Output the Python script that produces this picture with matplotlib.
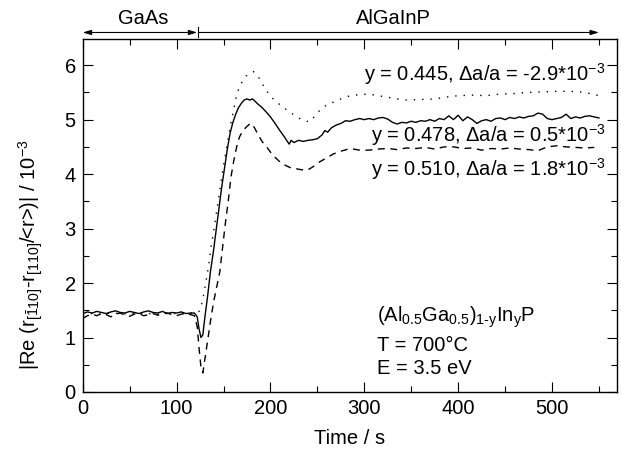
import numpy as np
import matplotlib.pyplot as plt
from matplotlib.ticker import MultipleLocator

plt.rcParams['font.family'] = ['Liberation Sans', 'DejaVu Sans']
plt.rcParams['mathtext.fontset'] = 'custom'
plt.rcParams['mathtext.rm'] = 'Liberation Sans'
plt.rcParams['mathtext.it'] = 'Liberation Sans:italic'
plt.rcParams['mathtext.bf'] = 'Liberation Sans:bold'

# y = 0.478 (solid)
t_solid = [0, 5, 10, 15, 20, 25, 30, 35, 40, 45, 50, 55, 60, 65, 70, 75, 80, 85, 90, 95,
           100, 105, 110, 115, 119, 122, 124, 126, 128, 130, 133, 136, 139, 142, 145, 148,
           151, 154, 157, 160, 163, 166, 169, 172, 175, 178, 181, 184, 187, 190, 195, 200,
           205, 210, 215, 218, 220, 222, 225, 230, 235, 240, 245, 250, 255, 258, 261, 265,
           270, 275, 280, 285, 290, 295, 300, 305, 310, 315, 320, 325, 330, 335, 340, 345,
           350, 355, 360, 365, 370, 375, 380, 385, 390, 395, 400, 405, 410, 415, 420, 425,
           430, 435, 440, 445, 450, 455, 460, 465, 470, 475, 480, 485, 490, 495, 500, 505,
           510, 515, 520, 525, 530, 535, 540, 545, 550]
v_solid = [1.44, 1.47, 1.45, 1.48, 1.46, 1.44, 1.47, 1.49, 1.46, 1.45, 1.48, 1.46, 1.44, 1.47,
           1.49, 1.46, 1.45, 1.48, 1.44, 1.46, 1.45, 1.47, 1.44, 1.45, 1.45, 1.38, 1.15, 1.0,
           1.05, 1.35, 1.75, 2.2, 2.55, 2.95, 3.35, 3.75, 4.1, 4.45, 4.75, 4.95, 5.1, 5.22,
           5.3, 5.36, 5.38, 5.36, 5.38, 5.33, 5.28, 5.24, 5.15, 5.05, 4.93, 4.8, 4.68, 4.6,
           4.55, 4.62, 4.58, 4.62, 4.6, 4.62, 4.63, 4.65, 4.72, 4.8, 4.77, 4.85, 4.9, 4.93,
           4.98, 4.97, 5.0, 5.02, 5.0, 5.02, 5.0, 5.03, 5.04, 5.01, 4.95, 4.92, 4.95, 4.94,
           4.97, 4.95, 4.98, 4.97, 5.0, 4.97, 5.02, 5.0, 5.07, 5.0, 5.08, 4.98, 5.05, 5.0,
           4.93, 4.98, 5.0, 4.97, 5.02, 5.03, 5.0, 5.04, 5.02, 5.05, 5.03, 5.06, 5.07, 5.12,
           5.1, 5.02, 5.0, 5.02, 5.04, 5.1, 5.02, 5.05, 5.03, 5.06, 5.07, 5.05, 5.03]

# y = 0.445 (dotted)
t_dot = [0, 10, 20, 30, 40, 50, 60, 70, 80, 90, 100, 110, 118, 122, 125, 128, 131, 134, 137,
         140, 143, 146, 149, 152, 155, 158, 161, 164, 167, 170, 174, 178, 182, 186, 190, 195,
         200, 206, 212, 218, 224, 230, 236, 242, 248, 254, 260, 267, 275, 285, 295, 305, 315,
         325, 335, 345, 360, 375, 390, 400, 415, 430, 445, 460, 475, 490, 505, 520, 535, 550]
v_dot = [1.42, 1.44, 1.43, 1.45, 1.44, 1.43, 1.45, 1.44, 1.43, 1.45, 1.44, 1.44, 1.45, 1.45,
         1.5, 1.7, 2.0, 2.3, 2.7, 3.0, 3.35, 3.7, 4.05, 4.35, 4.65, 4.95, 5.2, 5.45, 5.6, 5.7,
         5.8, 5.85, 5.88, 5.82, 5.7, 5.55, 5.43, 5.33, 5.25, 5.17, 5.1, 5.03, 4.98, 4.96,
         5.08, 5.2, 5.27, 5.32, 5.38, 5.44, 5.46, 5.47, 5.44, 5.41, 5.38, 5.36, 5.37, 5.38,
         5.42, 5.44, 5.45, 5.44, 5.47, 5.48, 5.5, 5.51, 5.52, 5.52, 5.5, 5.44]

# y = 0.510 (dashed)
t_dash = [0, 5, 10, 15, 20, 25, 30, 35, 40, 45, 50, 55, 60, 65, 70, 75, 80, 85, 90, 95, 100,
          105, 110, 115, 119, 122, 124, 126, 128, 131, 134, 137, 140, 143, 146, 149, 152, 155,
          158, 161, 164, 167, 170, 174, 178, 180, 183, 187, 191, 196, 201, 206, 211, 216, 221,
          227, 233, 239, 245, 252, 260, 267, 275, 285, 295, 305, 315, 325, 335, 345, 355, 365,
          375, 385, 395, 405, 415, 425, 435, 445, 455, 465, 475, 485, 495, 505, 515, 525, 535,
          545]
v_dash = [1.35, 1.4, 1.43, 1.4, 1.44, 1.42, 1.38, 1.43, 1.45, 1.41, 1.39, 1.43, 1.44, 1.4,
          1.42, 1.44, 1.41, 1.43, 1.45, 1.42, 1.4, 1.43, 1.44, 1.42, 1.4, 1.2, 0.8, 0.45, 0.35,
          0.7, 1.05, 1.4, 1.7, 1.95, 2.2, 2.65, 3.1, 3.5, 3.95, 4.25, 4.5, 4.68, 4.78, 4.86,
          4.92, 4.93, 4.85, 4.72, 4.6, 4.5, 4.38, 4.29, 4.21, 4.16, 4.12, 4.1, 4.08, 4.07,
          4.13, 4.22, 4.3, 4.37, 4.42, 4.47, 4.44, 4.44, 4.46, 4.47, 4.45, 4.48, 4.47, 4.49,
          4.46, 4.5, 4.5, 4.47, 4.48, 4.44, 4.47, 4.46, 4.48, 4.46, 4.45, 4.43, 4.5, 4.52,
          4.5, 4.49, 4.48, 4.49]

labels = ['y = 0.445, \u0394a/a = -2.9*10$^{-3}$',
          'y = 0.478, \u0394a/a = 0.5*10$^{-3}$',
          'y = 0.510, \u0394a/a = 1.8*10$^{-3}$']
label_y = [5.84, 4.72, 4.09]

fs = 14.5

fig = plt.figure(figsize=(6.21, 4.5), dpi=100)
ax = fig.add_axes([0.1332, 0.1289, 0.86, 0.7844])

ax.plot(t_dot, v_dot, color='black', lw=1.0, linestyle=(0, (1, 5)))
ax.plot(t_solid, v_solid, color='black', lw=1.0)
ax.plot(t_dash, v_dash, color='black', lw=1.0, linestyle=(0, (5, 4)))

for s, yy in zip(labels, label_y):
    ax.text(557, yy, s, ha='right', va='center', fontsize=fs)

ax.text(314, 1.38, '(Al$_{0.5}$Ga$_{0.5}$)$_{\\mathrm{1\u2010y}}$In$_{\\mathrm{y}}$P',
        ha='left', va='center', fontsize=fs)
ax.text(314, 0.86, 'T = 700\u00b0C', ha='left', va='center', fontsize=fs)
ax.text(314, 0.44, 'E = 3.5 eV', ha='left', va='center', fontsize=fs)

# growth regions above the frame
arr_y = 6.6
ax.annotate('', xy=(0, arr_y), xytext=(122, arr_y), annotation_clip=False,
            arrowprops=dict(arrowstyle='<|-|>,head_length=0.5,head_width=0.15', color='black', lw=0.8,
                            shrinkA=0, shrinkB=0))
ax.annotate('', xy=(124, arr_y), xytext=(550, arr_y), annotation_clip=False,
            arrowprops=dict(arrowstyle='<|-,head_length=0.5,head_width=0.15', color='black', lw=0.8,
                            shrinkA=0, shrinkB=0))
ax.plot([123, 123], [6.51, 6.7], color='black', lw=0.8, clip_on=False)
ax.text(64, 6.86, 'GaAs', ha='center', va='center', fontsize=fs)
ax.text(331, 6.86, 'AlGaInP', ha='center', va='center', fontsize=fs)

ax.set_xlim(0, 569)
ax.set_ylim(0, 6.48)
ax.xaxis.set_major_locator(MultipleLocator(100))
ax.xaxis.set_minor_locator(MultipleLocator(50))
ax.yaxis.set_major_locator(MultipleLocator(1))
ax.yaxis.set_minor_locator(MultipleLocator(0.5))
ax.tick_params(which='both', direction='in', top=True, right=True, labelsize=fs, width=0.8)
ax.tick_params(which='major', length=7, pad=5)
ax.tick_params(which='minor', length=4)
for sp in ax.spines.values():
    sp.set_linewidth(1.0)

ax.set_xlabel('Time / s', fontsize=fs, labelpad=8)
ax.set_ylabel('|Re (r$_{[\\bar{1}10]}$-r$_{[110]}$/<r>)| / 10$^{-3}$', fontsize=fs)
ax.yaxis.set_label_coords(-0.07, 0.39)

fig.savefig('out.png', dpi=100)
